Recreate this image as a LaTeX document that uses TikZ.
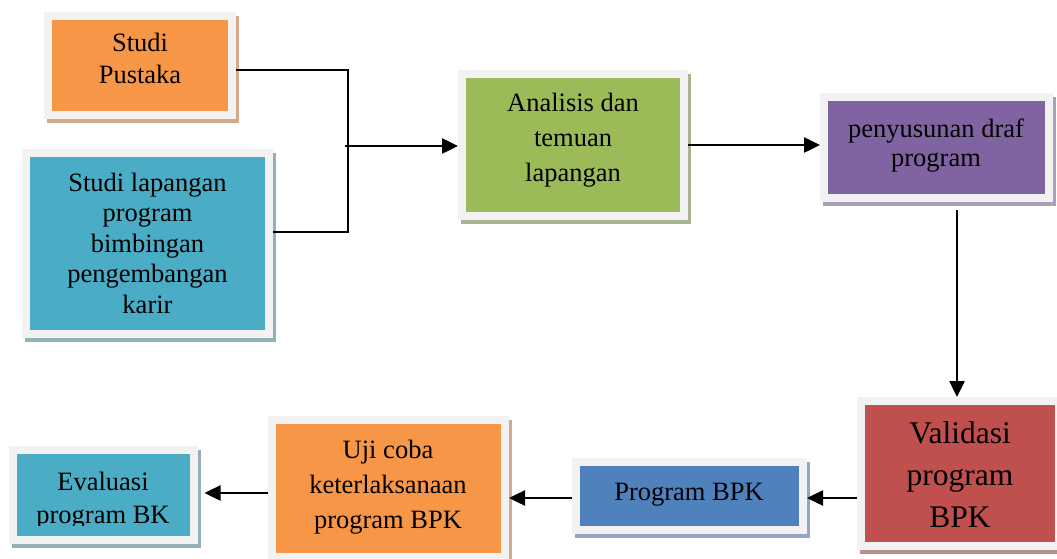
\documentclass[tikz,border=0pt]{standalone}
\usepackage{fontspec}
\setmainfont{Liberation Serif}
\usetikzlibrary{arrows.meta,calc}
\definecolor{framegray}{HTML}{F2F2F2}
\definecolor{orangeF}{HTML}{F79646}
\definecolor{orangeS}{HTML}{D4AA8A}
\definecolor{aquaF}{HTML}{4BACC6}
\definecolor{aquaS}{HTML}{94AEBA}
\definecolor{greenF}{HTML}{9BBB59}
\definecolor{greenS}{HTML}{A8B48F}
\definecolor{purpleF}{HTML}{8064A2}
\definecolor{purpleS}{HTML}{A89FB8}
\definecolor{redF}{HTML}{C0504D}
\definecolor{redS}{HTML}{B88E8E}
\definecolor{blueF}{HTML}{4F81BD}
\definecolor{blueS}{HTML}{94A7C0}
\tikzset{
  box/.style n args={2}{rectangle, inner sep=0pt, fill=#1, draw=framegray, line width=8pt,
    preaction={draw=#2, fill=#2, line width=8pt, transform canvas={shift={(3pt,-4pt)}}}},
  txt/.style={anchor=base, align=center, inner sep=0pt, text=black},
  arr/.style={-{Triangle[length=16pt,width=15pt]}, line width=2.5pt},
  link/.style={line width=1.8pt}
}
\begin{document}
\begin{tikzpicture}[x=1pt,y=-1pt]
\useasboundingbox (0,0) rectangle (1057,559);
% boxes
\node[box={orangeF}{orangeS}, minimum width=184pt, minimum height=99pt] (sp) at (140,65.5) {};
\node[box={aquaF}{aquaS}, minimum width=243pt, minimum height=181pt] (sl) at (147.5,243.5) {};
\node[box={greenF}{greenS}, minimum width=222pt, minimum height=142pt] (an) at (573,145) {};
\node[box={purpleF}{purpleS}, minimum width=225pt, minimum height=101pt] (pd) at (936.5,147.5) {};
\node[box={redF}{redS}, minimum width=198pt, minimum height=145pt] (vp) at (960,473.5) {};
\node[box={blueF}{blueS}, minimum width=227pt, minimum height=68pt] (pb) at (689.5,496) {};
\node[box={orangeF}{orangeS}, minimum width=233pt, minimum height=137pt] (uj) at (388.5,488.5) {};
\node[box={aquaF}{aquaS}, minimum width=181pt, minimum height=90pt] (ev) at (103,495) {};
% texts (anchor=base is the baseline of the last line)
\node[txt, font={\fontsize{26.5pt}{32pt}\selectfont}] (spt) at (140,84) {Studi\\Pustaka};
\node[txt, font={\fontsize{26.5pt}{30.5pt}\selectfont}] (slt) at (147.5,313) {Studi lapangan\\program\\bimbingan\\pengembangan\\karir};
\node[txt, font={\fontsize{26.5pt}{35pt}\selectfont}] (ant) at (573,181.7) {Analisis dan\\temuan\\lapangan};
\node[txt, font={\fontsize{26.5pt}{28.5pt}\selectfont}] (pdt) at (936,166.5) {penyusunan draf\\program};
\node[txt, font={\fontsize{31.5pt}{42pt}\selectfont}] (vpt) at (960,527) {Validasi\\program\\BPK};
\node[txt, font={\fontsize{26.5pt}{32pt}\selectfont}] (pbt) at (689,500.7) {Program BPK};
\node[txt, font={\fontsize{26.5pt}{35pt}\selectfont}] (ujt) at (388,528) {Uji coba\\keterlaksanaan\\program BPK};
\begin{scope}
  \clip (17,450) rectangle (190,525);
  \node[txt, font={\fontsize{26.5pt}{33pt}\selectfont}] (evt) at (103,523) {Evaluasi\\program BK};
\end{scope}
% connectors
\coordinate (j1) at (348,70);
\coordinate (j2) at (348,232);
\coordinate (j0) at (345,146);
\draw[link] ([yshift=-4.5pt]sp.east) -- (j1) -- (j2) -- (j2 -| sl.east);
\draw[arr] (j0) -- (j0 -| an.west);
\draw[arr] (an.east) -- (an.east -| pd.west);
\draw[arr] ([xshift=20.5pt,yshift=-8pt]pd.south) -- ([xshift=-3pt]vp.north);
\draw[arr] ([yshift=-24.5pt]vp.west) -- ([yshift=-2pt]pb.east);
\draw[arr] ([yshift=-2pt]pb.west) -- ([yshift=-9.5pt]uj.east);
\draw[arr] ([yshift=-4.5pt]uj.west) -- ([xshift=7pt,yshift=2pt]ev.east);
\end{tikzpicture}
\end{document}
